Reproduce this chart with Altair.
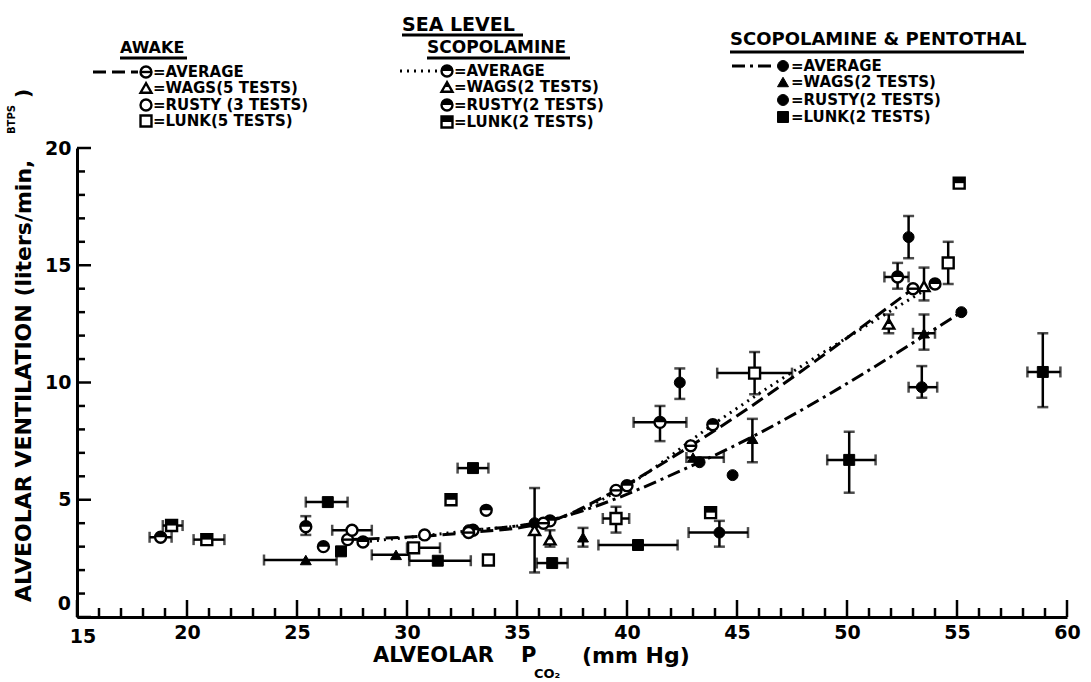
import altair as alt
import pandas as pd

# ---------------- data ----------------
# point tuples: (x, y, x_lo, x_hi, y_lo, y_hi)  None = no error bar
AWAKE_WAGS = [(35.8, 3.7, None, None, 1.9, 5.5), (53.5, 14.1, None, None, 13.5, 14.9)]
AWAKE_RUSTY = [(27.5, 3.7, 26.6, 28.4, None, None), (30.8, 3.5, None, None, None, None)]
AWAKE_LUNK = [(30.3, 2.95, 30.0, 31.5, None, None), (33.7, 2.43, None, None, None, None),
              (39.5, 4.2, 38.9, 40.1, 3.6, 4.7), (45.8, 10.4, 44.1, 47.5, 9.5, 11.3),
              (54.6, 15.1, None, None, 14.2, 16.0)]
SCOP_WAGS = [(36.5, 3.3, None, None, 3.0, 3.7), (51.9, 12.5, None, None, 12.1, 12.9)]
SCOP_RUSTY = [(18.8, 3.4, 18.3, 19.3, None, None), (25.4, 3.85, None, None, 3.5, 4.3),
              (26.2, 3.0, None, None, None, None), (33.6, 4.55, None, None, None, None),
              (41.5, 8.3, 40.3, 42.7, 7.5, 9.0), (52.3, 14.5, 51.7, 52.8, 14.0, 15.1)]
SCOP_LUNK = [(19.3, 3.9, 18.9, 19.8, None, None), (20.9, 3.3, 20.3, 21.7, None, None),
             (32.0, 5.0, None, None, None, None), (43.8, 4.45, None, None, None, None),
             (55.1, 18.5, None, None, None, None)]
PENT_WAGS = [(25.4, 2.43, 23.5, 26.8, None, None), (29.5, 2.65, 28.4, 30.1, None, None),
             (38.0, 3.4, None, None, 3.0, 3.8), (43.0, 6.8, 42.7, 44.4, None, None),
             (45.7, 7.6, None, None, 6.6, 8.45), (53.5, 12.1, 53.0, 54.0, 11.4, 12.9)]
PENT_RUSTY = [(42.4, 10.0, None, None, 9.3, 10.6), (44.8, 6.05, None, None, None, None),
              (44.2, 3.6, 42.8, 45.5, 3.0, 4.1), (52.8, 16.2, None, None, 15.3, 17.1),
              (53.4, 9.8, 52.8, 54.1, 9.35, 10.7)]
PENT_LUNK = [(26.4, 4.9, 25.4, 27.3, None, None), (27.0, 2.8, None, None, None, None),
             (31.4, 2.4, 30.1, 32.9, None, None), (33.0, 6.35, 32.3, 33.7, None, None),
             (36.6, 2.3, 35.9, 37.3, None, None), (40.5, 3.07, 38.7, 42.3, None, None),
             (50.1, 6.7, 49.1, 51.3, 5.3, 7.9), (58.9, 10.45, 58.2, 59.7, 8.95, 12.1)]

AVG_AWAKE_X = [27.3, 32.8, 36.2, 39.5, 42.9, 53.0]
AVG_AWAKE_Y = [3.3, 3.6, 4.0, 5.4, 7.3, 14.0]
AVG_SCOP_X = [28.0, 33.0, 36.5, 40.0, 43.9, 54.0]
AVG_SCOP_Y = [3.2, 3.7, 4.1, 5.6, 8.2, 14.2]
AVG_PENT_X = [32.8, 35.8, 43.3, 55.2]
AVG_PENT_Y = [3.7, 4.0, 6.6, 13.0]

X_LABELS = [15, 20, 25, 30, 35, 40, 45, 50, 55, 60]
Y_LABELS = [0, 5, 10, 15, 20]

# ---------------- layout ----------------
W, H = 990, 469
X0, Y0 = 77, 148          # plot origin inside the page
XMIN, XMAX, YMIN, YMAX = 15, 60, 0, 20
FONT = "DejaVu Sans"
SZ = 120


def px2x(px):
    return XMIN + (px - X0) * (XMAX - XMIN) / W


def py2y(py):
    return YMAX - (py - Y0) * (YMAX - YMIN) / H


xs = alt.Scale(domain=[XMIN, XMAX], nice=False, zero=False)
ys = alt.Scale(domain=[YMIN, YMAX], nice=False, zero=False)

AXIS_COMMON = dict(ticks=False, grid=False, title=None, domainColor="black", domainWidth=3,
                   labelFont=FONT, labelFontSize=19, labelFontWeight="bold", labelColor="black",
                   labelPadding=6, labelFlush=False)
# the corner labels "15" and "0" are drawn as separate texts below
XAXIS = alt.Axis(values=X_LABELS, labelExpr="datum.value == 15 ? '' : datum.label", **AXIS_COMMON)
YAXIS = alt.Axis(values=Y_LABELS, labelExpr="datum.value == 0 ? '' : datum.label", **AXIS_COMMON)

SHAPE_DOMAIN = ["W", "R", "L", "Wh", "Rh", "Lh", "bar"]
SHAPE_RANGE = ["triangle-up", "circle", "square",
               "M0,-0.866L0.5,0L-0.5,0Z",
               "M-1,0A1,1 0 0,1 1,0Z",
               "M-1,-1L1,-1L1,0L-1,0Z",
               "M-1,0L1,0"]
shape_scale = alt.Scale(domain=SHAPE_DOMAIN, range=SHAPE_RANGE)


def X(f):
    return alt.X(f"{f}:Q", scale=xs, axis=XAXIS)


def Y(f):
    return alt.Y(f"{f}:Q", scale=ys, axis=YAXIS)


def build(style, subj, pts):
    out = []
    for x, y, xlo, xhi, ylo, yhi in pts:
        out.append(dict(style=style, sym=subj, x=x, y=y, xlo=xlo, xhi=xhi, ylo=ylo, yhi=yhi))
    return out


rows = (build("open", "W", AWAKE_WAGS) + build("open", "R", AWAKE_RUSTY) + build("open", "L", AWAKE_LUNK)
        + build("half", "W", SCOP_WAGS) + build("half", "R", SCOP_RUSTY) + build("half", "L", SCOP_LUNK)
        + build("filled", "W", PENT_WAGS) + build("filled", "R", PENT_RUSTY) + build("filled", "L", PENT_LUNK))
pts = pd.DataFrame(rows)

hbar = pts[pts["xlo"].notna()].copy()
vbar = pts[pts["ylo"].notna()].copy()
hcaps = pd.concat([hbar.assign(cx=hbar["xlo"]), hbar.assign(cx=hbar["xhi"])])
vcaps = pd.concat([vbar.assign(cy=vbar["ylo"]), vbar.assign(cy=vbar["yhi"])])

layers = []

# inward tick marks
xt = pd.DataFrame({"v": list(range(15, 61))})
xt["major"] = xt["v"] % 5 == 0
yt = pd.DataFrame({"v": list(range(0, 21))})
yt["major"] = yt["v"] % 5 == 0
layers.append(alt.Chart(xt[xt["major"]]).mark_rule(color="black", strokeWidth=2.5).encode(
    x=X("v"), y=alt.value(H), y2=alt.value(H - 17)))
layers.append(alt.Chart(xt[~xt["major"]]).mark_rule(color="black", strokeWidth=2.5).encode(
    x=X("v"), y=alt.value(H), y2=alt.value(H - 9)))
layers.append(alt.Chart(yt[yt["major"]]).mark_rule(color="black", strokeWidth=2.5).encode(
    y=Y("v"), x=alt.value(0), x2=alt.value(14)))
layers.append(alt.Chart(yt[~yt["major"]]).mark_rule(color="black", strokeWidth=2.5).encode(
    y=Y("v"), x=alt.value(0), x2=alt.value(8)))

# average lines
DASH_A, DASH_S, DASH_P = [13, 6], [2, 5], [13, 5, 3, 5]
for xs_, ys_, dash in [(AVG_AWAKE_X, AVG_AWAKE_Y, DASH_A), (AVG_SCOP_X, AVG_SCOP_Y, DASH_S),
                       (AVG_PENT_X, AVG_PENT_Y, DASH_P)]:
    d = pd.DataFrame({"x": xs_, "y": ys_})
    layers.append(alt.Chart(d).mark_line(color="black", strokeWidth=3, strokeDash=dash,
                                         interpolate="monotone").encode(x=X("x"), y=Y("y"), order="x:Q"))

# error bars
layers.append(alt.Chart(hbar).mark_rule(color="black", strokeWidth=2.5).encode(
    x=X("xlo"), x2="xhi:Q", y=Y("y")))
layers.append(alt.Chart(vbar).mark_rule(color="black", strokeWidth=2.5).encode(
    y=Y("ylo"), y2="yhi:Q", x=X("x")))
layers.append(alt.Chart(hcaps).mark_tick(color="black", orient="vertical", size=11, thickness=2.5).encode(
    x=X("cx"), y=Y("y")))
layers.append(alt.Chart(vcaps).mark_tick(color="black", orient="horizontal", size=11, thickness=2.5).encode(
    x=X("x"), y=Y("cy")))


def symbols(df):
    S = alt.Shape("sym:N", scale=shape_scale, legend=None)
    out = []
    op = df[df["style"].isin(["open", "half"])]
    if len(op):
        out.append(alt.Chart(op).mark_point(filled=True, fill="white", stroke="black", strokeWidth=2.4,
                                            size=SZ, opacity=1).encode(x=X("x"), y=Y("y"), shape=S))
    hf = df[df["style"] == "half"].copy()
    if len(hf):
        hf["sym"] = hf["sym"] + "h"
        out.append(alt.Chart(hf).mark_point(filled=True, fill="black", strokeWidth=0,
                                            size=SZ, opacity=1).encode(x=X("x"), y=Y("y"), shape=S))
    fl = df[df["style"] == "filled"]
    if len(fl):
        out.append(alt.Chart(fl).mark_point(filled=True, fill="black", stroke="black", strokeWidth=1,
                                            size=SZ, opacity=1).encode(x=X("x"), y=Y("y"), shape=S))
    br = df[df["style"] == "avgA"].copy()
    if len(br):
        out.append(alt.Chart(br.assign(sym="R")).mark_point(filled=True, fill="white", stroke="black",
                                                            strokeWidth=2.4, size=SZ, opacity=1).encode(
            x=X("x"), y=Y("y"), shape=S))
        out.append(alt.Chart(br.assign(sym="bar")).mark_point(filled=False, stroke="black", strokeWidth=2.4,
                                                              size=SZ, opacity=1).encode(
            x=X("x"), y=Y("y"), shape=S))
    return out


# average markers
avg_pts = pd.DataFrame(
    [dict(style="avgA", sym="R", x=a, y=b) for a, b in zip(AVG_AWAKE_X, AVG_AWAKE_Y)]
    + [dict(style="half", sym="R", x=a, y=b) for a, b in zip(AVG_SCOP_X, AVG_SCOP_Y)]
    + [dict(style="filled", sym="R", x=a, y=b) for a, b in zip(AVG_PENT_X, AVG_PENT_Y)])
layers += symbols(avg_pts)
layers += symbols(pts)

# ---------------- legend blocks (page pixel positions) ----------------
LEG_HEAD = [(120, 48, "AWAKE", 16), (402, 25, "SEA LEVEL", 19), (427, 48, "SCOPOLAMINE", 17),
            (730, 40, "SCOPOLAMINE & PENTOTHAL", 18)]
LEG_UNDER = [(120, 187, 58), (402, 523, 35), (427, 570, 58), (730, 1024, 52)]
LEG_SAMPLE = [(93, 138, 72, DASH_A), (400, 440, 71, DASH_S), (732, 775, 66, DASH_P)]
LEG_BLOCKS = [
    (146, 153, [72, 88, 105, 121], "open", "avgA",
     ["=AVERAGE", "=WAGS(5 TESTS)", "=RUSTY (3 TESTS)", "=LUNK(5 TESTS)"]),
    (447, 454, [71, 87, 105, 122], "half", "half",
     ["=AVERAGE", "=WAGS(2 TESTS)", "=RUSTY(2 TESTS)", "=LUNK(2 TESTS)"]),
    (783, 791, [66, 82, 100, 117], "filled", "filled",
     ["=AVERAGE", "=WAGS(2 TESTS)", "=RUSTY(2 TESTS)", "=LUNK(2 TESTS)"]),
]

for a, b, t, s in LEG_HEAD:
    d = pd.DataFrame([dict(x=px2x(a), y=py2y(b), t=t)])
    layers.append(alt.Chart(d).mark_text(align="left", baseline="middle", font=FONT, fontWeight="bold",
                                         fontSize=s, color="black").encode(x=X("x"), y=Y("y"), text="t:N"))
under_df = pd.DataFrame([dict(x=px2x(a), x2=px2x(b), y=py2y(c)) for a, b, c in LEG_UNDER])
layers.append(alt.Chart(under_df).mark_rule(color="black", strokeWidth=3).encode(
    x=X("x"), x2="x2:Q", y=Y("y")))
for a, b, c, dash in LEG_SAMPLE:
    d = pd.DataFrame({"x": [px2x(a), px2x(b)], "y": [py2y(c), py2y(c)]})
    layers.append(alt.Chart(d).mark_line(color="black", strokeWidth=3, strokeDash=dash).encode(
        x=X("x"), y=Y("y")))

leg_sym_rows, leg_txt_rows = [], []
for sx, tx, rys, style, avgstyle, texts in LEG_BLOCKS:
    leg_sym_rows.append(dict(style=avgstyle, sym="R", x=px2x(sx), y=py2y(rys[0])))
    for s, ry in zip(["W", "R", "L"], rys[1:]):
        leg_sym_rows.append(dict(style=style, sym=s, x=px2x(sx), y=py2y(ry)))
    for t, ry in zip(texts, rys):
        leg_txt_rows.append(dict(x=px2x(tx), y=py2y(ry), t=t))
layers += symbols(pd.DataFrame(leg_sym_rows))
layers.append(alt.Chart(pd.DataFrame(leg_txt_rows)).mark_text(
    align="left", baseline="middle", font=FONT, fontWeight="bold", fontSize=15, color="black").encode(
    x=X("x"), y=Y("y"), text="t:N"))

# ---------------- corner tick labels ----------------
CORNER = [(83, 637, "15", "center"), (71, 604, "0", "right")]
for a, b, t, al in CORNER:
    d = pd.DataFrame([dict(x=px2x(a), y=py2y(b), t=t)])
    layers.append(alt.Chart(d).mark_text(align=al, baseline="middle", font=FONT, fontWeight="bold",
                                         fontSize=19, color="black").encode(x=X("x"), y=Y("y"), text="t:N"))

# ---------------- axis titles ----------------
XTITLE = [(373, 656, "ALVEOLAR", 21), (521, 656, "P", 21), (534, 674, "CO\u2082", 13),
          (582, 656, "(mm Hg)", 22)]
for a, b, t, s in XTITLE:
    d = pd.DataFrame([dict(x=px2x(a), y=py2y(b), t=t)])
    layers.append(alt.Chart(d).mark_text(align="left", baseline="middle", font=FONT, fontWeight="bold",
                                         fontSize=s, color="black").encode(x=X("x"), y=Y("y"), text="t:N"))

YTITLE = [(24, 602, "ALVEOLAR  VENTILATION (liters/min,", 22),
          (12, 134, "BTPS", 10),
          (24, 98, ")", 20)]
for a, b, t, s in YTITLE:
    d = pd.DataFrame([dict(x=px2x(a), y=py2y(b), t=t)])
    layers.append(alt.Chart(d).mark_text(align="left", baseline="middle", angle=270, font=FONT,
                                         fontWeight="bold", fontSize=s, color="black").encode(
        x=X("x"), y=Y("y"), text="t:N"))

chart = alt.layer(*layers).properties(
    width=W, height=H,
    autosize=alt.AutoSizeParams(type="none"),
    padding={"left": X0, "top": Y0, "right": 1091 - X0 - W, "bottom": 682 - Y0 - H},
    background="white",
).configure_view(stroke=None)

chart.save("out.html", embed_options={"renderer": "svg", "actions": False})
